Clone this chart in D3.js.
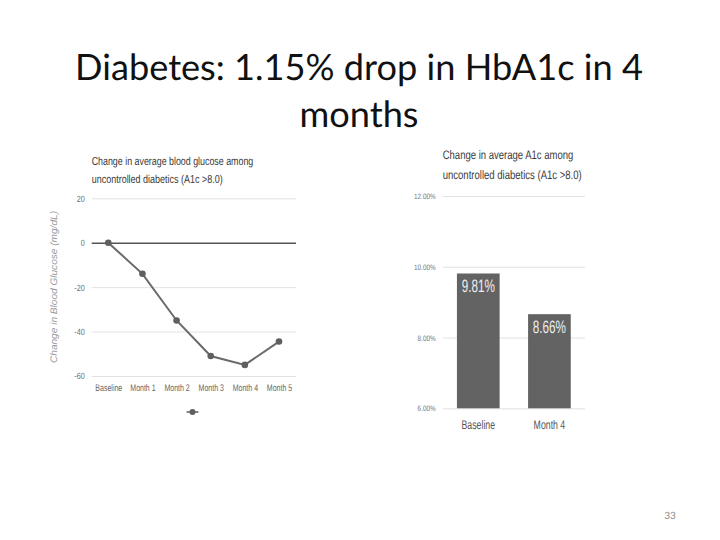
<!DOCTYPE html>
<html><head><meta charset="utf-8">
<script src="https://cdn.jsdelivr.net/npm/d3@7"></script>
<style>
html,body{margin:0;padding:0;background:#fff;}
svg{display:block;}
.chart{font-family:"Liberation Sans",Arial,sans-serif;}
text{text-rendering:geometricPrecision;}
</style></head>
<body>
<svg id="c" width="720" height="540" style="opacity:0.999"></svg>
<script>
// ---- data ----
const pageTitle = ["Diabetes: 1.15% drop in HbA1c in 4", "months"];
const pageNumber = "33";

const lineTitle = ["Change in average blood glucose among", "uncontrolled diabetics (A1c >8.0)"];
const lineYLabel = "Change in Blood Glucose (mg/dL)";
const lineCategories = ["Baseline", "Month 1", "Month 2", "Month 3", "Month 4", "Month 5"];
const lineValues = [0, -14, -35, -51, -55, -44.5];
const lineTicks = [20, 0, -20, -40, -60];

const barTitle = ["Change in average A1c among", "uncontrolled diabetics (A1c >8.0)"];
const barCategories = ["Baseline", "Month 4"];
const barValues = [9.81, 8.66];
const barTicks = [6, 8, 10, 12];

// ---- drawing ----
const svg = d3.select("#c");

function fitText(sel, w) {
  sel.attr("textLength", w).attr("lengthAdjust", "spacingAndGlyphs");
}
function condense(sel, f) {
  sel.each(function () {
    const w = this.getComputedTextLength();
    d3.select(this).attr("textLength", w * f).attr("lengthAdjust", "spacingAndGlyphs");
  });
}

// page title
const tfont = '"Lato","Open Sans","Liberation Sans",sans-serif';
const t1 = svg.append("text").attr("x", 359).attr("y", 80).attr("text-anchor", "middle")
  .attr("font-family", tfont).attr("font-size", 36).attr("fill", "#111").text(pageTitle[0]);
const w1 = t1.node().getComputedTextLength();
const fs = 36 * 568 / w1;
t1.attr("font-size", fs);
svg.append("text").attr("x", 359).attr("y", 127).attr("text-anchor", "middle")
  .attr("font-family", tfont).attr("font-size", fs).attr("fill", "#111").text(pageTitle[1]);

svg.append("text").attr("x", 670).attr("y", 519).attr("text-anchor", "middle")
  .attr("font-family", tfont).attr("font-size", 10).attr("fill", "#888").text(pageNumber);

// ---------- left line chart ----------
const L = svg.append("g").attr("class", "chart");
const ly = d3.scaleLinear().domain([-60, 20]).range([376, 198.3]);
const lx = d3.scalePoint().domain(lineCategories).range([108.3, 279]);
const lx0 = 91.7, lx1 = 296;

fitText(L.append("text").attr("x", 91.7).attr("y", 165).attr("font-size", 11.5).attr("fill", "#3a3a3a").text(lineTitle[0]), 161.6);
fitText(L.append("text").attr("x", 91.7).attr("y", 183).attr("font-size", 11.5).attr("fill", "#3a3a3a").text(lineTitle[1]), 131);

const lAxis = L.append("g").attr("transform", `translate(${lx0},0)`)
  .call(d3.axisLeft(ly).tickValues(lineTicks).tickSize(-(lx1 - lx0)).tickPadding(7).tickFormat(d => String(d)));
lAxis.select(".domain").remove();
lAxis.selectAll(".tick line").attr("stroke", d => d === 0 ? "#555" : "#e2e2e2").attr("stroke-width", d => d === 0 ? 1.4 : 1);
lAxis.selectAll(".tick text").attr("font-size", 9).attr("fill", "#6f6f6f").attr("font-family", null).call(condense, 0.8);

const xAx = L.append("g").attr("transform", "translate(0,376)")
  .call(d3.axisBottom(lx).tickSize(0).tickPadding(8));
xAx.select(".domain").remove();
xAx.selectAll(".tick text").attr("font-size", 9.6).attr("fill", "#666").attr("font-family", null).call(condense, 0.73);

fitText(L.append("text").attr("transform", "translate(57,287) rotate(-90)").attr("text-anchor", "middle")
  .attr("font-size", 9.5).attr("font-style", "italic").attr("fill", "#999").text(lineYLabel), 152);

const line = d3.line().x((d, i) => lx(lineCategories[i])).y(d => ly(d));
L.append("path").datum(lineValues).attr("d", line).attr("fill", "none")
  .attr("stroke", "#6a6a6a").attr("stroke-width", 2);
L.selectAll("circle.pt").data(lineValues).join("circle").attr("class", "pt")
  .attr("cx", (d, i) => lx(lineCategories[i])).attr("cy", d => ly(d)).attr("r", 3.3).attr("fill", "#5f5f5f");

// legend
L.append("line").attr("x1", 186.5).attr("x2", 198.5).attr("y1", 412).attr("y2", 412).attr("stroke", "#6a6a6a").attr("stroke-width", 1.6);
L.append("circle").attr("cx", 192.5).attr("cy", 412).attr("r", 3).attr("fill", "#5f5f5f");

// ---------- right bar chart ----------
const R = svg.append("g").attr("class", "chart");
const by = d3.scaleLinear().domain([6, 12]).range([408.3, 196]);
const bx = d3.scaleBand().domain(barCategories).range([442.7, 585]).paddingInner(0.4).paddingOuter(0.2);

fitText(R.append("text").attr("x", 442.7).attr("y", 159.3).attr("font-size", 12.3).attr("fill", "#3a3a3a").text(barTitle[0]), 130.6);
fitText(R.append("text").attr("x", 442.7).attr("y", 179.3).attr("font-size", 12.3).attr("fill", "#3a3a3a").text(barTitle[1]), 139);

const bAxis = R.append("g").attr("transform", "translate(442.7,0)")
  .call(d3.axisLeft(by).tickValues(barTicks).tickSize(-(585 - 442.7)).tickPadding(7).tickFormat(d => d3.format(".2f")(d) + "%"));
bAxis.select(".domain").remove();
bAxis.selectAll(".tick line").attr("stroke", "#e2e2e2");
bAxis.selectAll(".tick text").attr("font-size", 7.8).attr("fill", "#777").attr("font-family", null).call(condense, 0.82);

R.selectAll("rect.bar").data(barValues).join("rect").attr("class", "bar")
  .attr("x", (d, i) => bx(barCategories[i])).attr("width", bx.bandwidth())
  .attr("y", d => by(d)).attr("height", d => by(6) - by(d)).attr("fill", "#636363");

R.selectAll("text.lbl").data(barValues).join("text").attr("class", "lbl")
  .attr("x", (d, i) => bx(barCategories[i]) + bx.bandwidth() / 2).attr("y", d => by(d) + 18.5)
  .attr("text-anchor", "middle").attr("font-size", 18).attr("fill", "#eeeeee")
  .text(d => d3.format(".2f")(d) + "%").call(condense, 0.65);

const bxAx = R.append("g").attr("transform", "translate(0,408.3)")
  .call(d3.axisBottom(bx).tickSize(0).tickPadding(12));
bxAx.select(".domain").remove();
bxAx.selectAll(".tick text").attr("font-size", 12.5).attr("fill", "#555").attr("font-family", null).call(condense, 0.7);
</script>
</body></html>
